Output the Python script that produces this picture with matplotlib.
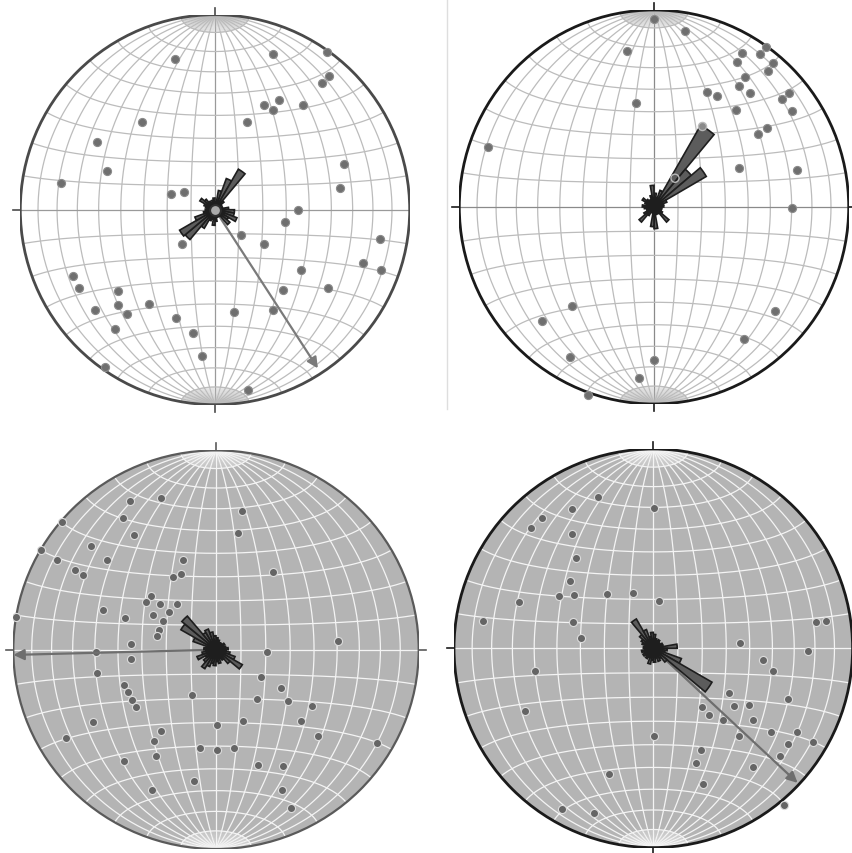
import numpy as np
import matplotlib
matplotlib.use("Agg")
import matplotlib.pyplot as plt
from matplotlib.patches import Circle, Polygon, FancyArrowPatch
from matplotlib.lines import Line2D

# ---------------------------------------------------------------------------
# Data: poles plotted in net coordinates (east, north; primitive radius = 1),
# rose-diagram petal lengths per 10-degree bin (bin centres 5, 15, ..., 355)
# and mean-direction arrows (azimuth in degrees, length in net radii).
# ---------------------------------------------------------------------------

a_east = [-0.205, 0.296, 0.573, 0.585, 0.552, 0.253, 0.328, 0.299, 0.453, -0.376,
          0.166, -0.607, -0.556, -0.791, 0.663, 0.641, -0.227, -0.157, 0.427, 0.361,
          0.133, -0.171, 0.251, 0.846, 0.761, 0.851, 0.441, -0.730, -0.696, -0.496,
          0.347, 0.578, -0.615, -0.496, -0.453, -0.338, -0.202, 0.097, 0.299, -0.516,
          -0.111, -0.065, -0.564, 0.168]
a_north = [0.773, 0.798, 0.807, 0.687, 0.650, 0.537, 0.562, 0.511, 0.537, 0.451,
           0.448, 0.349, 0.197, 0.137, 0.234, 0.109, 0.080, 0.089, -0.002, -0.065,
           -0.130, -0.176, -0.176, -0.150, -0.275, -0.308, -0.308, -0.338, -0.402, -0.415,
           -0.410, -0.400, -0.513, -0.489, -0.533, -0.484, -0.556, -0.526, -0.513, -0.612,
           -0.632, -0.749, -0.805, -0.925]
a_rose = [0.04, 0.10, 0.17, 0.24, 0.06, 0.04, 0.03, 0.04, 0.07, 0.10,
          0.10, 0.12, 0.08, 0.10, 0.04, 0.03, 0.04, 0.06, 0.08, 0.05,
          0.06, 0.11, 0.20, 0.21, 0.11, 0.06, 0.05, 0.04, 0.05, 0.06,
          0.09, 0.07, 0.05, 0.04, 0.05, 0.06]
a_mean = (147.0, 0.97)

b_east = [0.000, 0.159, -0.140, 0.575, 0.454, 0.545, 0.428, 0.613, 0.584, 0.467,
          0.437, 0.274, 0.325, 0.493, 0.695, 0.659, 0.707, 0.421, -0.092, 0.579,
          0.536, 0.438, 0.736, -0.854, 0.707, -0.420, -0.574, 0.622, 0.464, -0.432,
          0.000, -0.077, -0.341]
b_north = [0.954, 0.892, 0.794, 0.814, 0.782, 0.777, 0.738, 0.729, 0.692, 0.658,
           0.616, 0.585, 0.562, 0.577, 0.577, 0.548, 0.489, 0.494, 0.526, 0.401,
           0.371, 0.198, 0.190, 0.305, -0.005, -0.504, -0.580, -0.526, -0.670, -0.760,
           -0.775, -0.870, -0.954]
b_open_east = [0.245, 0.108]
b_open_north = [0.409, 0.146]
b_rose = [0.07, 0.05, 0.09, 0.48, 0.25, 0.31, 0.07, 0.05, 0.05, 0.04,
          0.04, 0.04, 0.05, 0.10, 0.04, 0.03, 0.04, 0.11, 0.10, 0.03,
          0.03, 0.05, 0.10, 0.06, 0.04, 0.03, 0.05, 0.06, 0.04, 0.05,
          0.07, 0.05, 0.04, 0.04, 0.06, 0.11]

c_east = [-0.424, -0.271, 0.130, -0.762, -0.461, -0.403, 0.107, -0.618, -0.863, -0.783,
          -0.539, -0.161, -0.696, -0.655, -0.174, -0.211, 0.283, -0.321, -0.345, -0.276,
          -0.194, -0.230, -0.313, -0.260, -0.556, -0.449, -0.987, -0.283, -0.293, -0.419,
          0.600, -0.592, 0.250, -0.419, -0.586, 0.220, -0.452, -0.436, -0.416, -0.395,
          -0.120, 0.201, 0.321, 0.354, 0.472, -0.609, 0.007, 0.132, 0.419, -0.273,
          -0.306, -0.740, 0.505, 0.793, -0.079, 0.007, 0.090, -0.296, -0.452, 0.206,
          0.329, -0.107, -0.317, 0.324, 0.370]
c_north = [0.747, 0.763, 0.696, 0.642, 0.662, 0.575, 0.585, 0.518, 0.500, 0.450,
           0.450, 0.450, 0.400, 0.376, 0.380, 0.363, 0.391, 0.271, 0.237, 0.229,
           0.229, 0.187, 0.176, 0.145, 0.199, 0.159, 0.166, 0.099, 0.070, 0.028,
           0.043, -0.010, -0.010, -0.047, -0.117, -0.135, -0.176, -0.214, -0.251, -0.286,
           -0.226, -0.247, -0.192, -0.256, -0.281, -0.365, -0.378, -0.360, -0.360, -0.410,
           -0.457, -0.445, -0.433, -0.470, -0.492, -0.502, -0.492, -0.532, -0.557, -0.577,
           -0.582, -0.657, -0.704, -0.704, -0.796]
c_rose = [0.06, 0.05, 0.04, 0.04, 0.04, 0.05, 0.04, 0.05, 0.06, 0.05,
          0.07, 0.10, 0.15, 0.09, 0.06, 0.05, 0.07, 0.06, 0.08, 0.07,
          0.09, 0.11, 0.08, 0.06, 0.10, 0.07, 0.05, 0.06, 0.05, 0.12,
          0.20, 0.22, 0.10, 0.11, 0.09, 0.07]
c_mean = (268.5, 1.0)

d_east = [-0.276, 0.005, -0.406, -0.557, -0.615, -0.406, -0.388, -0.418, -0.473, -0.398,
          -0.234, -0.104, 0.028, -0.672, -0.856, -0.405, -0.365, 0.814, 0.865, 0.435,
          0.774, 0.548, 0.602, -0.594, 0.381, 0.677, 0.242, 0.406, 0.480, 0.281,
          0.351, 0.498, -0.644, 0.590, 0.719, 0.431, 0.677, 0.803, 0.005, 0.239,
          0.635, 0.212, 0.498, -0.222, 0.247, -0.457, -0.296, 0.657]
d_north = [0.758, 0.702, 0.699, 0.652, 0.604, 0.572, 0.452, 0.339, 0.264, 0.269,
           0.273, 0.279, 0.236, 0.231, 0.137, 0.134, 0.052, 0.130, 0.137, 0.025,
           -0.012, -0.057, -0.115, -0.115, -0.226, -0.254, -0.293, -0.291, -0.284, -0.334,
           -0.358, -0.358, -0.316, -0.421, -0.421, -0.438, -0.480, -0.472, -0.438, -0.508,
           -0.538, -0.577, -0.597, -0.630, -0.682, -0.806, -0.828, -0.786]
d_rose = [0.07, 0.05, 0.04, 0.05, 0.04, 0.04, 0.05, 0.05, 0.12, 0.07,
          0.06, 0.15, 0.34, 0.09, 0.06, 0.07, 0.05, 0.07, 0.06, 0.08,
          0.05, 0.06, 0.05, 0.06, 0.05, 0.06, 0.04, 0.05, 0.04, 0.06,
          0.07, 0.09, 0.17, 0.10, 0.06, 0.08]
d_mean = (133.0, 0.99)

W, H = 852, 854


def schmidt(lon, lat):
    """Equal-area (Schmidt) projection of the transverse net, unit radius."""
    lam = np.radians(lon)
    phi = np.radians(lat)
    x3 = np.cos(phi) * np.sin(lam)
    y3 = np.sin(phi)
    z3 = np.cos(phi) * np.cos(lam)
    d = np.sqrt(1.0 + z3)
    return x3 / d, y3 / d


def make_net(cx, cy, rx, ry, face, grid, rim, rim_lw, axis_col, ticks, fine_alpha):
    ax = fig.add_axes([(cx - rx) / W, (H - (cy + ry)) / H, 2 * rx / W, 2 * ry / H])
    ax.set_xlim(-1, 1)
    ax.set_ylim(-1, 1)
    ax.axis("off")
    ax.add_patch(Circle((0, 0), 1.0, facecolor=face, edgecolor="none", zorder=0))
    t = np.linspace(-90, 90, 181)
    # great circles (meridians) every 10 degrees
    for lon in range(-80, 81, 10):
        x, y = schmidt(np.full_like(t, lon), t)
        col = axis_col if lon == 0 else grid
        ax.plot(x, y, color=col, lw=0.9, zorder=1, solid_capstyle="butt")
    # small circles every 10 degrees
    for lat in range(-80, 81, 10):
        x, y = schmidt(t, np.full_like(t, lat))
        col = axis_col if lat == 0 else grid
        ax.plot(x, y, color=col, lw=0.9, zorder=1)
    # dense 2-degree meridians inside the polar caps
    tp = np.linspace(80, 90, 20)
    for lon in range(-88, 89, 2):
        if lon % 10 == 0:
            continue
        for sgn in (1, -1):
            x, y = schmidt(np.full_like(tp, lon), sgn * tp)
            ax.plot(x, y, color=grid, lw=0.35, alpha=fine_alpha, zorder=1)
    ax.add_patch(Circle((0, 0), 1.0, facecolor="none", edgecolor=rim, lw=rim_lw, zorder=2))
    for az in ticks:
        a = np.radians(az)
        ax.plot([np.sin(a), 1.035 * np.sin(a)], [np.cos(a), 1.035 * np.cos(a)],
                color=rim, lw=1.2, zorder=2, clip_on=False)
    return ax


def rose(ax, lengths, face="#5c5c5c", edge="#1e1e1e"):
    for i, L in enumerate(lengths):
        a0 = np.radians(10 * i)
        a1 = np.radians(10 * i + 10)
        arc = np.linspace(a0, a1, 8)
        pts = [(0, 0)] + [(L * np.sin(a), L * np.cos(a)) for a in arc]
        ax.add_patch(Polygon(pts, closed=True, facecolor=face, edgecolor=edge,
                             lw=1.2, zorder=5, joinstyle="miter"))


def mean_arrow(ax, mean, color="#7a7a7a"):
    az, L = mean
    a = np.radians(az)
    ax.add_patch(FancyArrowPatch((0, 0), (L * np.sin(a), L * np.cos(a)),
                                 arrowstyle="-|>", mutation_scale=16, color=color,
                                 lw=1.6, zorder=4, shrinkA=0, shrinkB=0, clip_on=False))


fig = plt.figure(figsize=(W / 100, H / 100), dpi=100)
fig.patch.set_facecolor("white")

# thin divider between the two upper nets
fig.add_artist(Line2D([447 / W, 447 / W], [1.0, 1 - 410 / H], color="#dedede", lw=1.0))

pt_kw = dict(s=34, zorder=3, linewidths=0.8)

# upper left
ax1 = make_net(215, 210.7, 194.7, 195, "white", "#bcbcbc", "#4a4a4a", 2.0, "#9a9a9a",
               (0, 180, 270), 0.8)
ax1.scatter(a_east, a_north, c="#6f6f6f", edgecolors="#8c8c8c", **pt_kw)
mean_arrow(ax1, a_mean)
rose(ax1, a_rose)
ax1.scatter([0], [0], s=60, c="#a9a9a9", edgecolors="#2e2e2e", linewidths=1.4, zorder=6)

# upper right
ax2 = make_net(654, 208, 194.7, 197, "white", "#bcbcbc", "#1a1a1a", 2.0, "#8a8a8a",
               (0, 90, 180, 270), 0.8)
ax2.scatter(b_east, b_north, c="#6f6f6f", edgecolors="#8c8c8c", **pt_kw)
rose(ax2, b_rose)
ax2.scatter(b_open_east[:1], b_open_north[:1], s=34, c="#8a8a8a", edgecolors="#b8b8b8",
            linewidths=1.0, zorder=6)
ax2.scatter(b_open_east[1:], b_open_north[1:], s=34, facecolors="none", edgecolors="#b8b8b8",
            linewidths=1.0, zorder=6)

# lower left
ax3 = make_net(216, 650.7, 202.7, 199.3, "#b4b4b4", "#f4f4f4", "#5a5a5a", 1.6, "#f4f4f4",
               (0, 90, 270), 0.6)
ax3.scatter(c_east, c_north, c="#656565", edgecolors="#dcdcdc", **pt_kw)
mean_arrow(ax3, c_mean, color="#6e6e6e")
rose(ax3, c_rose)

# lower right
ax4 = make_net(653.3, 649.3, 199.3, 199.3, "#b4b4b4", "#f4f4f4", "#1a1a1a", 2.0, "#f4f4f4",
               (0, 180, 270), 0.6)
ax4.scatter(d_east, d_north, c="#656565", edgecolors="#dcdcdc", **pt_kw)
mean_arrow(ax4, d_mean, color="#6e6e6e")
rose(ax4, d_rose)

fig.savefig("out.png", dpi=100, facecolor="white")
